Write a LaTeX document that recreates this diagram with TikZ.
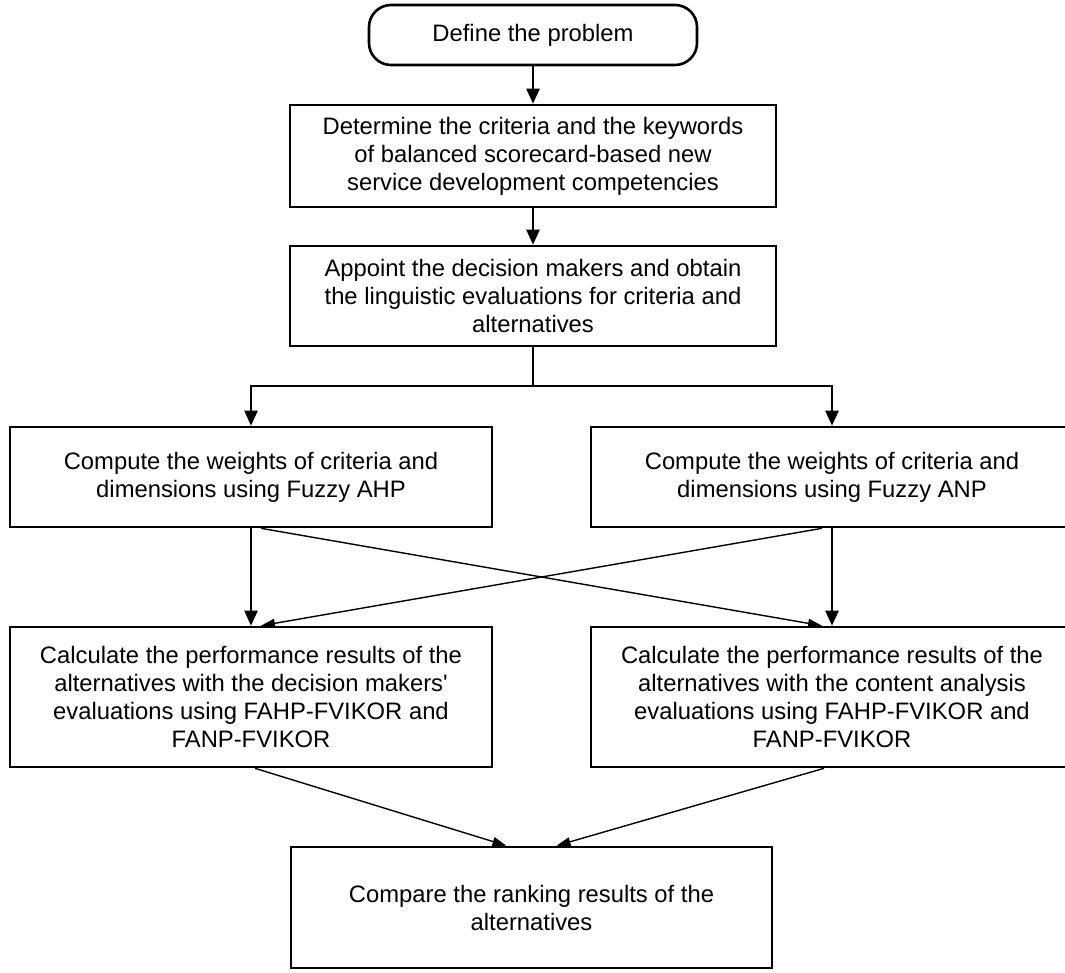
\documentclass[tikz,border=0pt]{standalone}
\usepackage{fontspec}
\setmainfont{Liberation Sans}[Ligatures=TeXOff]
\usepackage{tikz}
\usetikzlibrary{arrows.meta, positioning, calc}

\begin{document}
\begin{tikzpicture}[
    x=1pt, y=-1pt,
    box/.style={rectangle, draw=black, line width=2.6pt, fill=white, inner sep=0pt, minimum width=#1, align=center, font=\fontsize{23.8}{28}\selectfont},
    term/.style={rectangle, rounded corners=22pt, draw=black, line width=2.6pt, inner sep=0pt, minimum width=328pt, minimum height=60pt, font=\fontsize{23.8}{28}\selectfont},
    arrow/.style={-{Triangle[length=15pt, width=13pt]}, line width=2.4pt},
    thinarrow/.style={-{Triangle[length=14pt, width=9pt]}, line width=1.4pt}
]
\useasboundingbox (0,0) rectangle (1065,972);
\clip (0,0) rectangle (1065,972);

% Preparation
\node[term] (define) at (533,35) {Define the problem};
\node[box=486pt, minimum height=102pt] (crit) at (533,156) {Determine the criteria and the keywords\\of balanced scorecard-based new\\service development competencies};
\node[box=486pt, minimum height=100pt] (dm) at (533,296) {Appoint the decision makers and obtain\\the linguistic evaluations for criteria and\\alternatives};

\draw[arrow] (define) -- (crit);
\draw[arrow] (crit) -- (dm);

% Weights of criteria
\coordinate (split) at (533,386);
\node[box=482pt, minimum height=100pt] (fahp) at (251,477) {Compute the weights of criteria and\\dimensions using Fuzzy AHP};
\node[box=482pt, minimum height=100pt] (fanp) at (832,477) {Compute the weights of criteria and\\dimensions using Fuzzy ANP};

\draw[line width=2.4pt] (dm.south) -- (split);
\draw[arrow] (split) -| (fahp.north);
\draw[arrow] (split) -| (fanp.north);

% Performance results
\node[box=482pt, minimum height=140pt] (perfdm) at (251,697) {Calculate the performance results of the\\alternatives with the decision makers'\\evaluations using FAHP-FVIKOR and\\FANP-FVIKOR};
\node[box=482pt, minimum height=140pt] (perfca) at (832,697) {Calculate the performance results of the\\alternatives with the content analysis\\evaluations using FAHP-FVIKOR and\\FANP-FVIKOR};

\draw[arrow] (fahp) -- (perfdm);
\draw[arrow] (fanp) -- (perfca);
\draw[thinarrow] ([xshift=10pt]fahp.south) -- ([xshift=-10pt]perfca.north);
\draw[thinarrow] ([xshift=-10pt]fanp.south) -- ([xshift=10pt]perfdm.north);

% Comparison
\node[box=481pt, minimum height=121pt] (rank) at (531.5,907.5) {Compare the ranking results of the\\alternatives};

\draw[thinarrow] ([xshift=4pt]perfdm.south) -- ([xshift=-25pt]rank.north);
\draw[thinarrow] ([xshift=-8pt]perfca.south) -- ([xshift=25pt]rank.north);

\end{tikzpicture}
\end{document}
